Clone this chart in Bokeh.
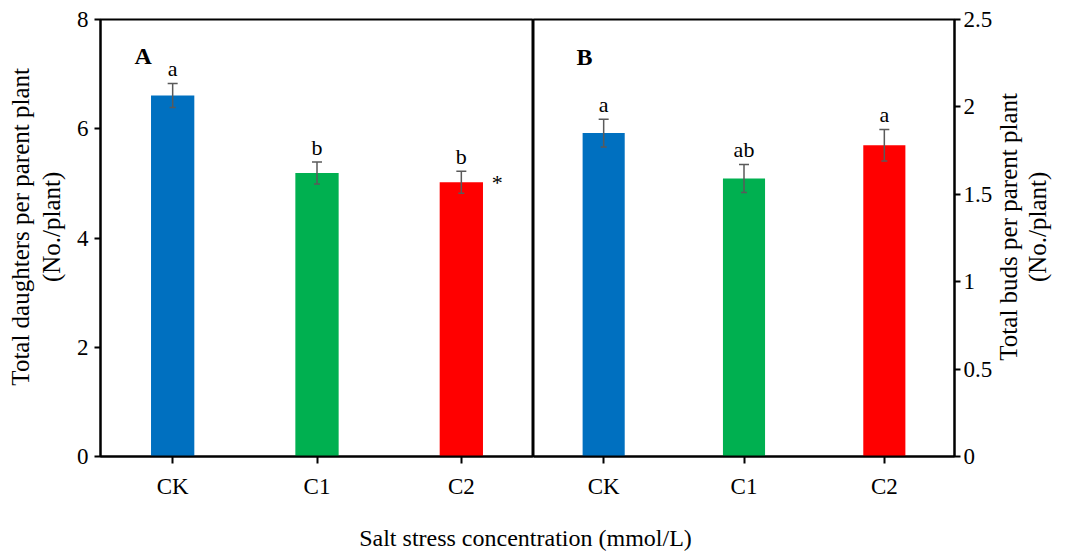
import math
from bokeh.plotting import figure
from bokeh.models import (ColumnDataSource, Whisker, TeeHead, Label,
                          FixedTicker, Range1d, NumeralTickFormatter)
from bokeh.layouts import column, row
from bokeh.embed import file_html
from bokeh.resources import INLINE
from bokeh.core.properties import value

# ---- data ----
categories = ["CK", "C1", "C2"]
bar_colors = ["#0070C0", "#00B050", "#FF0000"]
daughters = [6.61, 5.19, 5.02]
daughters_err = [0.22, 0.20, 0.20]
daughters_letters = ["a", "b", "b"]
buds = [1.85, 1.59, 1.78]
buds_err = [0.08, 0.08, 0.09]
buds_letters = ["a", "ab", "a"]
ticks_a = [0, 2, 4, 6, 8]
ticks_b = [0, 0.5, 1, 1.5, 2, 2.5]
x_title = "Salt stress concentration (mmol/L)"
ylab_a = ["Total daughters per parent plant", "(No./plant)"]
ylab_b = ["Total buds per parent plant", "(No./plant)"]

FONT = "Liberation Serif"
ERR_COLOR = "#5a5a5a"
TICK_SIZE = "23px"
LABEL_SIZE = "24px"
YLABEL_SIZE = "25px"
ROW_H = 510


def make_source(vals, errs, letters):
    return ColumnDataSource(dict(
        cat=categories, val=vals, color=bar_colors,
        upper=[v + e for v, e in zip(vals, errs)],
        lower=[v - e for v, e in zip(vals, errs)],
        letter=letters))


def style_axis(ax):
    ax.axis_line_width = 2
    ax.axis_line_color = "black"
    ax.major_tick_line_width = 2
    ax.major_tick_line_color = "black"
    ax.major_tick_in = 0
    ax.major_tick_out = 6
    ax.minor_tick_line_color = None
    ax.major_label_text_font = FONT
    ax.major_label_text_font_size = TICK_SIZE
    ax.major_label_text_color = "black"


def text_fig(width, height):
    f = figure(width=width, height=height, x_range=Range1d(0, width), y_range=Range1d(0, height),
               output_backend="svg", toolbar_location=None, x_axis_type=None, y_axis_type=None,
               min_border=0, min_border_left=0, min_border_right=0, min_border_top=0,
               min_border_bottom=0)
    f.outline_line_color = None
    f.xgrid.visible = False
    f.ygrid.visible = False
    return f


def add_vlabel(f, text, x, y):
    f.add_layout(Label(x=x, y=y, text=text, angle=math.pi / 2, text_align="center",
                       text_baseline="middle", text_font=FONT,
                       text_font_size=YLABEL_SIZE, text_color="black"))


def add_bars(p, src):
    p.vbar(x="cat", top="val", width=0.3, fill_color="color", line_color=None, source=src)
    p.add_layout(Whisker(source=src, base="cat", upper="upper", lower="lower",
                         line_color=ERR_COLOR, line_width=1.5, level="annotation",
                         upper_head=TeeHead(size=10, line_color=ERR_COLOR, line_width=1.5),
                         lower_head=TeeHead(size=6, line_color=ERR_COLOR, line_width=1.5)))
    p.text(x="cat", y="upper", text="letter", source=src, text_align="center",
           text_baseline="alphabetic", y_offset=-15, text_font=value(FONT),
           text_font_size="22px", text_color="black")


def base_fig(y_max, width, left, right, yloc):
    p = figure(x_range=categories, y_range=Range1d(0, y_max), width=width, height=ROW_H,
               output_backend="svg", toolbar_location=None, y_axis_location=yloc,
               min_border_left=left, min_border_right=right,
               min_border_top=19, min_border_bottom=54)
    p.xgrid.visible = False
    p.ygrid.visible = False
    p.outline_line_color = "black"
    p.outline_line_width = 2
    p.background_fill_color = "white"
    p.border_fill_color = "white"
    style_axis(p.xaxis[0])
    p.xaxis[0].major_tick_out = 7
    p.xaxis[0].major_label_standoff = 10
    return p


# ---- left label strip ----
labA = text_fig(70, ROW_H)
add_vlabel(labA, ylab_a[0], 20, ROW_H - 242)
add_vlabel(labA, ylab_a[1], 51, ROW_H - 242)

# ---- panel A ----
srcA = make_source(daughters, daughters_err, daughters_letters)
pA = base_fig(8, 463, 30, 0, "left")
ya = pA.yaxis[0]
style_axis(ya)
ya.ticker = FixedTicker(ticks=ticks_a)
ya.major_label_standoff = 6
add_bars(pA, srcA)
pA.text(x=[categories[2]], y=[daughters[2]], text=["*"], x_offset=36,
        text_align="center", text_baseline="middle", text_font=value(FONT),
        text_font_size="22px", text_color="black")
pA.add_layout(Label(x=34, y=401, x_units="screen", y_units="screen", text="A",
                    text_font=FONT, text_font_size="24px", text_font_style="bold",
                    text_baseline="middle", text_color="black"))

# ---- panel B ----
srcB = make_source(buds, buds_err, buds_letters)
pB = base_fig(2.5, 462, 0, 40, "right")
yb = pB.yaxis[0]
style_axis(yb)
yb.ticker = FixedTicker(ticks=ticks_b)
yb.formatter = NumeralTickFormatter(format="0.[0]")
yb.major_label_standoff = 3
add_bars(pB, srcB)
pB.add_layout(Label(x=43, y=400, x_units="screen", y_units="screen", text="B",
                    text_font=FONT, text_font_size="24px", text_font_style="bold",
                    text_baseline="middle", text_color="black"))

# ---- right label strip (x from 995) ----
labB = text_fig(86, ROW_H)
add_vlabel(labB, ylab_b[0], 13, ROW_H - 242)
add_vlabel(labB, ylab_b[1], 42, ROW_H - 242)

# ---- shared x title ----
pT = text_fig(1081, 42)
pT.add_layout(Label(x=525, y=15, text=x_title, text_font=FONT, text_font_size=LABEL_SIZE,
                    text_align="center", text_baseline="middle", text_color="black"))

layout = column(row(labA, pA, pB, labB), pT)
open("out.html", "w").write(file_html(layout, INLINE))
